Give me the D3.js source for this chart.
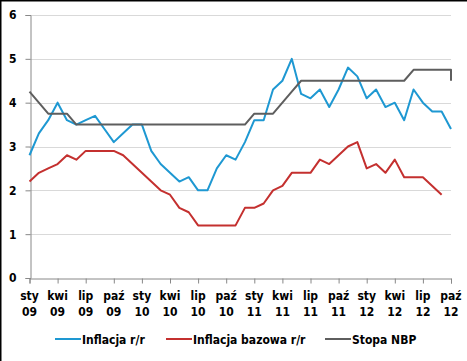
<!DOCTYPE html>
<html>
<head>
<meta charset="utf-8">
<script src="https://cdn.jsdelivr.net/npm/d3@7"></script>
<style>
  body { margin: 0; background: #fff; }
  svg text { font-family: "DejaVu Sans Condensed", "DejaVu Sans", sans-serif; font-stretch: condensed; font-weight: bold; fill: #000; }
</style>
</head>
<body>
<div id="chart"></div>
<script>
// monthly data, sty 09 .. paź 12
const monthNames = ["sty", "kwi", "lip", "paź"];
const years = ["09", "10", "11", "12"];

const inflation = [
  2.8, 3.3, 3.6, 4.0, 3.6, 3.5, 3.6, 3.7, 3.4, 3.1, 3.3, 3.5,
  3.5, 2.9, 2.6, 2.4, 2.2, 2.3, 2.0, 2.0, 2.5, 2.8, 2.7, 3.1,
  3.6, 3.6, 4.3, 4.5, 5.0, 4.2, 4.1, 4.3, 3.9, 4.3, 4.8, 4.6,
  4.1, 4.3, 3.9, 4.0, 3.6, 4.3, 4.0, 3.8, 3.8, 3.4
];
const coreInflation = [
  2.2, 2.4, 2.5, 2.6, 2.8, 2.7, 2.9, 2.9, 2.9, 2.9, 2.8, 2.6,
  2.4, 2.2, 2.0, 1.9, 1.6, 1.5, 1.2, 1.2, 1.2, 1.2, 1.2, 1.6,
  1.6, 1.7, 2.0, 2.1, 2.4, 2.4, 2.4, 2.7, 2.6, 2.8, 3.0, 3.1,
  2.5, 2.6, 2.4, 2.7, 2.3, 2.3, 2.3, 2.1, 1.9
];
const nbpRate = [
  4.25, 4.0, 3.75, 3.75, 3.75, 3.5, 3.5, 3.5, 3.5, 3.5, 3.5, 3.5,
  3.5, 3.5, 3.5, 3.5, 3.5, 3.5, 3.5, 3.5, 3.5, 3.5, 3.5, 3.5,
  3.75, 3.75, 3.75, 4.0, 4.25, 4.5, 4.5, 4.5, 4.5, 4.5, 4.5, 4.5,
  4.5, 4.5, 4.5, 4.5, 4.5, 4.75, 4.75, 4.75, 4.75, 4.75
];
const nbpRateLast = 4.5; // cut at the very end of the series
const yTicks = [0, 1, 2, 3, 4, 5, 6];

const seriesNames = ["Inflacja r/r", "Inflacja bazowa r/r", "Stopa NBP"];
const colors = ["#1e98d2", "#c4302f", "#5e5e5e"];

const width = 467, height = 361;
const margin = { top: 15, right: 16, bottom: 83, left: 29.5 };

const svg = d3.select("#chart").append("svg")
  .attr("width", width)
  .attr("height", height);

// border (only top/left visible in the crop)
svg.append("rect")
  .attr("x", 0.75).attr("y", 0.75)
  .attr("width", width + 10).attr("height", height + 10)
  .attr("fill", "none").attr("stroke", "#000").attr("stroke-width", 1.5);

const x = d3.scaleLinear()
  .domain([0, inflation.length - 1])
  .range([margin.left, width - margin.right]);
const y = d3.scaleLinear()
  .domain([0, 6])
  .range([height - margin.bottom, margin.top]);

// gridlines
svg.append("g")
  .selectAll("line")
  .data(yTicks.slice(1))
  .join("line")
  .attr("x1", x.range()[0]).attr("x2", x.range()[1])
  .attr("y1", d => Math.round(y(d)) + 0.5).attr("y2", d => Math.round(y(d)) + 0.5)
  .attr("stroke", "#d9d9d9");

// y axis
const yAxis = svg.append("g")
  .attr("transform", `translate(${Math.round(x(0)) + 0.5},0)`)
  .call(d3.axisLeft(y).tickValues(yTicks).tickSize(5).tickPadding(9).tickFormat(d3.format("d")));
yAxis.selectAll("path, line").attr("stroke", "#888");
yAxis.selectAll("text").style("font-size", "12px");

// x axis
const xTickIdx = d3.range(0, inflation.length, 3);
const xAxis = svg.append("g")
  .attr("transform", `translate(0,${Math.round(y(0)) + 0.5})`)
  .call(d3.axisBottom(x).tickValues(xTickIdx).tickSize(5).tickFormat(""));
xAxis.selectAll("path, line").attr("stroke", "#888");

const xLabels = svg.append("g")
  .selectAll("text")
  .data(xTickIdx)
  .join("text")
  .attr("text-anchor", "middle")
  .style("font-size", "12px")
  .attr("transform", d => `translate(${x(d)},0)`);
xLabels.append("tspan").attr("x", 0).attr("y", 300)
  .text(d => monthNames[(d % 12) / 3]);
xLabels.append("tspan").attr("x", 0).attr("y", 316)
  .text(d => years[Math.floor(d / 12)]);

// lines
const line = d3.line().x(d => x(d[0])).y(d => y(d[1]));
const ratePoints = nbpRate.map((v, i) => [i, v]);
ratePoints.push([nbpRate.length - 1, nbpRateLast]);

const series = [
  inflation.map((v, i) => [i, v]),
  coreInflation.map((v, i) => [i, v]),
  ratePoints
];

svg.append("g")
  .selectAll("path")
  .data(series)
  .join("path")
  .attr("d", line)
  .attr("fill", "none")
  .attr("stroke", (d, i) => colors[i])
  .attr("stroke-width", 2)
  .attr("stroke-linejoin", "round");

// legend
const legendX = [55, 166, 325];
const legend = svg.append("g")
  .selectAll("g")
  .data(seriesNames)
  .join("g")
  .attr("transform", (d, i) => `translate(${legendX[i]},339)`);
legend.append("line")
  .attr("x1", 0).attr("x2", 26)
  .attr("stroke", (d, i) => colors[i])
  .attr("stroke-width", 2);
legend.append("text")
  .attr("x", 27)
  .attr("y", 4.5)
  .style("font-size", "12px")
  .text(d => d);
</script>
</body>
</html>
